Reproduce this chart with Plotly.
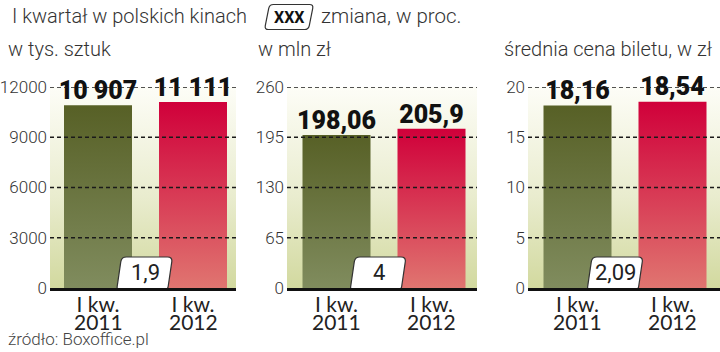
import plotly.graph_objects as go

# ---------------- data ----------------
quarter_label = "I kw."
years = ["2011", "2012"]

tickets = [10907, 11111]          # w tys. sztuk
revenue = [198.06, 205.9]         # w mln zł
avg_price = [18.16, 18.54]        # średnia cena biletu, w zł

changes = ["1,9", "4", "2,09"]    # zmiana, w proc.

ticks_tickets = [0, 3000, 6000, 9000, 12000]
ticks_revenue = [0, 65, 130, 195, 260]
ticks_price = [0, 5, 10, 15, 20]

subtitles = ["w tys. sztuk", "w mln zł", "średnia cena biletu, w zł"]
title_text = "I kwartał w polskich kinach"
legend_box_text = "XXX"
legend_text = "zmiana, w proc."
source_text = "źródło: Boxoffice.pl"


def fmt_thousands(v):
    return f"{v:,}".replace(",", " ")


def fmt_decimal(v):
    return str(v).replace(".", ",")


series = [
    (tickets, [fmt_thousands(v) for v in tickets], ticks_tickets),
    (revenue, [fmt_decimal(v) for v in revenue], ticks_revenue),
    (avg_price, [fmt_decimal(v) for v in avg_price], ticks_price),
]

# ---------------- style ----------------
W, H = 720, 352
F_LIGHT = "Roboto"
F_BOLD = "Roboto"
F_CAT = "Lato"
F_BADGE = "Liberation Sans Narrow, Roboto"
TXT = "#333333"

px_domains = [(50, 236), (287, 477), (528, 720)]
px_centers = [98, 336.5, 577.5]
unit_px = 95.0
bar_half = 34 / unit_px
y_bottom_px, y_top_px = 288, 87
badge_dx = [-1, -6, -10]

bar_scales = [
    [[0, "#808c5e"], [1, "#576026"]],
    [[0, "#e07570"], [1, "#d0003a"]],
]
bg_scale = [[0, "#d2d99f"], [0.45, "#e9ecce"], [1, "#fdfdf7"]]


def rounded_para(x0, w, h, s, r, y0=0.0):
    pts = [(x0, y0), (x0 + w, y0), (x0 + w + s, y0 + h), (x0 + s, y0 + h)]
    n = len(pts)
    out = ""
    for k in range(n):
        px_, py_ = pts[k - 1]
        cx, cy = pts[k]
        nx, ny = pts[(k + 1) % n]
        d1x, d1y = cx - px_, cy - py_
        l1 = (d1x ** 2 + d1y ** 2) ** 0.5
        d2x, d2y = nx - cx, ny - cy
        l2 = (d2x ** 2 + d2y ** 2) ** 0.5
        ax, ay = cx - d1x / l1 * r, cy - d1y / l1 * r
        bx, by = cx + d2x / l2 * r, cy + d2y / l2 * r
        out += ("M" if k == 0 else "L") + f"{ax:.2f},{ay:.2f}"
        out += f"Q{cx:.2f},{cy:.2f} {bx:.2f},{by:.2f}"
    return out + "Z"


fig = go.Figure()
shapes = []
annotations = []

for p, (vals, texts, ticks) in enumerate(series):
    xa = "x" if p == 0 else f"x{p + 1}"
    ya = "y" if p == 0 else f"y{p + 1}"
    d0, d1 = px_domains[p]
    c0 = px_centers[p]
    xr = [(d0 - c0) / unit_px, (d1 - c0) / unit_px]
    top = ticks[-1]

    # background gradient
    fig.add_trace(go.Scatter(
        x=[xr[0], xr[1], xr[1], xr[0], xr[0]], y=[0, 0, top, top, 0],
        xaxis=xa, yaxis=ya, mode="lines", fill="toself",
        line=dict(width=0), fillgradient=dict(type="vertical", colorscale=bg_scale),
        hoverinfo="skip", showlegend=False))

    # bars
    for i, v in enumerate(vals):
        fig.add_trace(go.Scatter(
            x=[i - bar_half, i + bar_half, i + bar_half, i - bar_half, i - bar_half],
            y=[0, 0, v, v, 0],
            xaxis=xa, yaxis=ya, mode="lines", fill="toself",
            line=dict(width=0),
            fillgradient=dict(type="vertical", colorscale=bar_scales[i]),
            hoverinfo="skip", showlegend=False))

    # value labels
    fig.add_trace(go.Scatter(
        x=list(range(len(vals))), y=vals, text=texts, mode="text",
        textposition="top center", xaxis=xa, yaxis=ya, cliponaxis=False,
        textfont=dict(family=F_BOLD, size=25, color="#111111", weight=900),
        hoverinfo="skip", showlegend=False))

    # dashed gridlines above bars
    for t in ticks[1:]:
        shapes.append(dict(type="line", xref=f"{xa} domain", yref=ya,
                           x0=0, x1=1, y0=t, y1=t, layer="above",
                           line=dict(color="#1a1a1a", width=1.3, dash="4px,3px")))

    # change badge
    shapes.append(dict(type="path", xref=xa, yref=ya,
                       xsizemode="pixel", ysizemode="pixel",
                       xanchor=0.5, yanchor=0,
                       path=rounded_para(-28 + badge_dx[p], 51, 34, 5, 5, y0=-3),
                       fillcolor="white", line=dict(color="#333333", width=1.2),
                       layer="above"))
    annotations.append(dict(x=0.5, y=0, xref=xa, yref=ya, text=changes[p],
                            showarrow=False, xshift=badge_dx[p] + 0.5, yshift=16,
                            yanchor="middle",
                            font=dict(family=F_BADGE, size=22, color="#222222")))

    # years under quarter label
    for i, yr in enumerate(years):
        annotations.append(dict(x=i, y=0, xref=xa, yref=f"{ya} domain", text=yr,
                                showarrow=False, yanchor="top", yshift=-19,
                                font=dict(family=F_CAT, size=21, color="#222222")))

    # subtitle
    sub_x = [6, 256, 502][p]
    annotations.append(dict(x=sub_x / W, y=1 - 49 / H, xref="paper", yref="paper",
                            text=subtitles[p], showarrow=False, xanchor="left",
                            yanchor="middle",
                            font=dict(family=F_LIGHT, size=20, color=TXT, weight=300)))

    axis_num = "" if p == 0 else str(p + 1)
    fig.update_layout(**{
        f"xaxis{axis_num}": dict(
            domain=[d0 / W, d1 / W], range=xr, anchor=ya, automargin=False,
            tickvals=list(range(len(years))), ticktext=[quarter_label] * len(years),
            showgrid=False, zeroline=False, showline=True, linewidth=3,
            linecolor="#111111", ticks="", layer="above traces",
            ticklabelstandoff=-4,
            tickfont=dict(family=F_CAT, size=21, color="#222222"),
            fixedrange=True),
        f"yaxis{axis_num}": dict(
            domain=[(H - y_bottom_px) / H, (H - y_top_px) / H], range=[0, top],
            anchor=xa, automargin=False,
            tickvals=ticks, ticktext=[str(t) for t in ticks],
            showgrid=False, zeroline=False,
            showline=False, ticks="", ticklabelstandoff=2,
            tickfont=dict(family=F_LIGHT, size=17, color=TXT, weight=300),
            fixedrange=True),
    })

# title line
annotations.append(dict(x=10 / W, y=1 - 16 / H, xref="paper", yref="paper",
                        text=title_text, showarrow=False, xanchor="left",
                        yanchor="middle",
                        font=dict(family=F_LIGHT, size=20, color=TXT, weight=300)))
shapes.append(dict(type="path", xref="paper", yref="paper",
                   xsizemode="pixel", ysizemode="pixel",
                   xanchor=289 / W, yanchor=1 - 17 / H,
                   path=rounded_para(-24.5, 44, 25, 5, 4, y0=-12.5),
                   fillcolor="white", line=dict(color="#333333", width=1.2)))
annotations.append(dict(x=289 / W, y=1 - 17 / H, xref="paper", yref="paper",
                        text=legend_box_text, showarrow=False,
                        xanchor="center", yanchor="middle",
                        font=dict(family=F_BADGE, size=16, color="#111111", weight=700)))
annotations.append(dict(x=319 / W, y=1 - 16 / H, xref="paper", yref="paper",
                        text=legend_text, showarrow=False, xanchor="left",
                        yanchor="middle",
                        font=dict(family=F_LIGHT, size=20.5, color=TXT, weight=300)))
# source
annotations.append(dict(x=6 / W, y=1 - 339 / H, xref="paper", yref="paper",
                        text=source_text, showarrow=False, xanchor="left",
                        yanchor="middle",
                        font=dict(family=F_LIGHT, size=17, color="#444444", weight=300)))

fig.update_layout(
    width=W, height=H, margin=dict(l=0, r=0, t=0, b=0, autoexpand=False),
    paper_bgcolor="white", plot_bgcolor="rgba(0,0,0,0)",
    shapes=shapes, annotations=annotations, showlegend=False,
)

fig.write_html("out.html", config={"displayModeBar": False})
